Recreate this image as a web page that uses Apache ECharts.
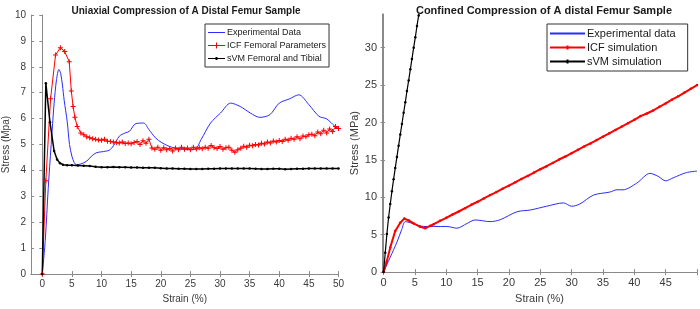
<!DOCTYPE html>
<html>
<head>
<meta charset="utf-8">
<script src="https://cdn.jsdelivr.net/npm/echarts@6/dist/echarts.min.js"></script>
<style>
  html, body { margin: 0; padding: 0; background: #fff; }
  #chart { width: 700px; height: 309px; }
</style>
</head>
<body>
<div id="chart"></div>
<script>
// left panel: uniaxial compression
const leftExpStrain = [0, 0.5, 1, 1.5, 2, 2.4, 2.8, 3.1, 3.4, 3.7, 4.2, 4.6, 5.0, 5.4, 5.8, 6.5, 7.5, 8.3, 9.1, 10, 11.3, 12, 13, 14, 14.7, 15.8, 17.1, 18, 19.1, 20.2, 21.8, 23.5, 25.7, 26.8, 28.4, 30.1, 31.8, 33.4, 35.1, 36.7, 38.4, 40, 41.7, 43.3, 45, 46.7, 48, 49.4, 50]
const leftExpStress = [0, 1.3, 3.3, 5.0, 6.6, 7.5, 7.9, 7.75, 7.3, 6.7, 5.9, 5.0, 4.55, 4.3, 4.22, 4.25, 4.36, 4.55, 4.68, 4.72, 4.78, 4.95, 5.32, 5.45, 5.51, 5.81, 5.83, 5.58, 5.26, 5.07, 4.9, 4.83, 4.81, 5.19, 5.83, 6.22, 6.6, 6.47, 6.22, 6.05, 6.15, 6.6, 6.76, 6.92, 6.54, 6.09, 5.99, 5.7, 5.6]

const leftIcfStrain = [0, 0.6, 1.4, 2.24, 3.06, 3.78, 4.55, 4.9, 5.2, 5.5, 5.9, 6.5, 7, 7.5, 8, 8.5, 9, 9.5, 10, 10.5, 11, 11.5, 12, 12.5, 13, 13.5, 14, 14.5, 15, 15.5, 16, 16.5, 17, 17.5, 18, 18.5, 19, 19.5, 20, 20.5, 21, 21.5, 22, 22.5, 23, 23.5, 24, 24.5, 25, 25.5, 26, 26.5, 27, 27.5, 28, 28.5, 29, 29.5, 30, 30.5, 31, 31.5, 32, 32.5, 33, 33.5, 34, 34.5, 35, 35.5, 36, 36.5, 37, 37.5, 38, 38.5, 39, 39.5, 40, 40.5, 41, 41.5, 42, 42.5, 43, 43.5, 44, 44.5, 45, 45.5, 46, 46.5, 47, 47.5, 48, 48.5, 49, 49.5, 50]
const leftIcfStress = [0, 3.6, 6.77, 8.46, 8.74, 8.59, 8.2, 7.07, 6.47, 6.05, 5.7, 5.45, 5.38, 5.3, 5.26, 5.22, 5.2, 5.18, 5.17, 5.2, 5.13, 5.12, 5.1, 5.07, 5.06, 5.1, 5.04, 5.06, 5.03, 5.08, 5.12, 5.0, 5.15, 5.05, 5.2, 4.87, 4.82, 4.9, 4.78, 4.88, 4.8, 4.85, 4.75, 4.87, 4.8, 4.9, 4.82, 4.87, 4.8, 4.9, 4.83, 4.88, 4.84, 4.9, 4.86, 4.96, 4.88, 4.85, 4.92, 4.82, 4.88, 4.9, 4.78, 4.7, 4.8, 4.86, 4.93, 4.9, 4.97, 4.95, 5.0, 4.98, 5.05, 5.02, 5.1, 5.06, 5.14, 5.1, 5.16, 5.12, 5.2, 5.17, 5.24, 5.2, 5.3, 5.22, 5.33, 5.3, 5.38, 5.4, 5.34, 5.48, 5.42, 5.55, 5.45, 5.6, 5.5, 5.7, 5.62]

const leftSvmStrain = [0, 0.6, 1.3, 2.0, 2.5, 3.0, 3.5, 4.2, 5, 6, 7, 8, 9, 10, 11, 12, 13, 14, 15, 16, 17, 18, 19, 20, 21, 22, 23, 24, 25, 26, 27, 28, 29, 30, 31, 32, 33, 34, 35, 36, 37, 38, 39, 40, 41, 42, 43, 44, 45, 46, 47, 48, 49, 50]
const leftSvmStress = [0, 7.37, 5.86, 4.75, 4.42, 4.28, 4.22, 4.2, 4.2, 4.19, 4.18, 4.17, 4.14, 4.12, 4.12, 4.13, 4.12, 4.12, 4.11, 4.11, 4.1, 4.1, 4.1, 4.09, 4.08, 4.08, 4.07, 4.07, 4.06, 4.06, 4.06, 4.07, 4.07, 4.08, 4.08, 4.08, 4.08, 4.08, 4.08, 4.07, 4.06, 4.06, 4.07, 4.07, 4.05, 4.06, 4.07, 4.07, 4.08, 4.08, 4.08, 4.08, 4.08, 4.08]

// right panel: confined compression
const rightExpStrain = [0, 1.07, 2.13, 2.9, 3.46, 4.25, 5.3, 6.4, 8.0, 10.1, 11.7, 13.3, 14.6, 17, 18.6, 21.3, 23.4, 26.0, 28.7, 30.0, 31.3, 33.5, 36.1, 37.2, 38.2, 40.4, 42.5, 43.8, 45, 46.2, 48.3, 50]
const rightExpStress = [0, 2.0, 4.0, 5.7, 6.75, 6.6, 6.3, 6.1, 6.1, 6.1, 5.87, 6.5, 6.97, 6.75, 7.0, 8.07, 8.3, 8.8, 9.25, 8.8, 9.1, 10.3, 10.7, 11.0, 11.0, 11.9, 13.2, 12.8, 12.2, 12.6, 13.3, 13.5]

const rightIcfStrain = [0, 0.5, 1.07, 1.86, 2.66, 3.3, 4.0, 4.8, 5.85, 6.65, 7.44, 8, 9, 10, 11, 12, 13, 14, 15, 16, 17, 18, 19, 20, 21, 22, 23, 24, 25, 26, 27, 28, 29, 30, 31, 32, 33, 34, 35, 36, 37, 38, 39, 40, 41, 42, 43, 44, 45, 46, 47, 48, 49, 50]
const rightIcfStress = [0, 1.4, 3.3, 5.5, 6.6, 7.15, 6.9, 6.5, 6.05, 5.87, 6.18, 6.4, 6.85, 7.25, 7.7, 8.1, 8.55, 9.0, 9.4, 9.85, 10.3, 10.7, 11.15, 11.55, 12.0, 12.45, 12.85, 13.3, 13.75, 14.15, 14.6, 15.05, 15.45, 15.9, 16.35, 16.8, 17.2, 17.65, 18.1, 18.55, 19.0, 19.45, 19.9, 20.35, 20.85, 21.2, 21.6, 22.1, 22.55, 23.05, 23.5, 24.0, 24.5, 25.0]

const rightSvmStrain = [0, 0.27, 0.53, 0.8, 1.07, 1.33, 1.6, 1.86, 2.13, 2.4, 2.67, 2.93, 3.2, 3.47, 3.73, 4.0, 4.27, 4.53, 4.8, 5.07, 5.33, 5.6, 5.87]
const rightSvmStress = [0, 2.6, 5.1, 7.3, 9.1, 10.8, 12.4, 13.9, 15.4, 16.9, 18.4, 19.8, 21.3, 22.7, 24.2, 25.6, 27.1, 28.5, 30.0, 31.4, 32.9, 34.3, 35.8]

const leftXTicks = [0, 5, 10, 15, 20, 25, 30, 35, 40, 45, 50]
const leftYTicks = [0, 1, 2, 3, 4, 5, 6, 7, 8, 9, 10]
const rightXTicks = [0, 5, 10, 15, 20, 25, 30, 35, 40, 45]
const rightXTickMarks = [0, 5, 10, 15, 20, 25, 30, 35, 40, 45, 50]
const rightYTicks = [0, 5, 10, 15, 20, 25, 30]

const zip = (xs, ys) => xs.map((x, i) => [x, ys[i]])

const FONT = 'Liberation Sans'
const AXIS_GREY = '#8a8a8a'
const LABEL_GREY = '#3a3a3a'
const PLUS = 'path://M4,0H6V4H10V6H6V10H4V6H0V4H4Z'

// legend icons: line sample with the marker drawn on it
const ICON_LINE_S = 'path://M0,4.5H17V5.5H0Z'
const ICON_PLUS_S = 'path://M0,4.5H17V5.5H0Z M8,2H9V4.5H11.5V5.5H9V8H8V5.5H5.5V4.5H8Z'
const ICON_DOT_S = 'path://M0,4.5H17V5.5H0Z M7.5,3.5H9.5V6.5H7.5Z'
const ICON_LINE_L = 'path://M0,5H35V7H0Z'
const ICON_DOT_L = 'path://M0,5H35V7H0Z M16.5,4H18.5V8H16.5Z'

function makeX(grid, min, max, labels, marks, fontSize, name, gap) {
    return [{
        type: 'value', gridIndex: grid, min: min, max: max, position: 'bottom',
        name: name, nameLocation: 'middle', nameGap: gap,
        nameTextStyle: { color: LABEL_GREY, fontFamily: FONT, fontSize: fontSize },
        axisLine: { show: true, onZero: false, lineStyle: { color: AXIS_GREY } },
        axisTick: { show: true, inside: true, length: 3, customValues: marks, lineStyle: { color: AXIS_GREY } },
        axisLabel: { customValues: labels, color: LABEL_GREY, fontFamily: FONT, fontSize: fontSize, margin: 5 },
        splitLine: { show: false }
    }, {
        type: 'value', gridIndex: grid, min: min, max: max, position: 'top',
        axisLine: { show: true, lineStyle: { color: AXIS_GREY } },
        axisTick: { show: true, inside: true, length: 3, customValues: marks, lineStyle: { color: AXIS_GREY } },
        axisLabel: { show: false },
        splitLine: { show: false }
    }]
}

function makeY(grid, min, max, ticks, fontSize, name, gap) {
    return [{
        type: 'value', gridIndex: grid, min: min, max: max, position: 'left',
        name: name, nameLocation: 'middle', nameGap: gap,
        nameTextStyle: { color: LABEL_GREY, fontFamily: FONT, fontSize: fontSize },
        axisLine: { show: true, onZero: false, lineStyle: { color: AXIS_GREY } },
        axisTick: { show: true, inside: true, length: 3, customValues: ticks, lineStyle: { color: AXIS_GREY } },
        axisLabel: { customValues: ticks, color: LABEL_GREY, fontFamily: FONT, fontSize: fontSize, margin: 5 },
        splitLine: { show: false }
    }, {
        type: 'value', gridIndex: grid, min: min, max: max, position: 'right',
        axisLine: { show: true, lineStyle: { color: AXIS_GREY } },
        axisTick: { show: true, inside: true, length: 3, customValues: ticks, lineStyle: { color: AXIS_GREY } },
        axisLabel: { show: false },
        splitLine: { show: false }
    }]
}

const chart = echarts.init(document.getElementById('chart'), null, { renderer: 'canvas' })

const option = {
    animation: false,
    backgroundColor: '#fff',
    title: [{
        text: 'Uniaxial Compression of A Distal Femur Sample',
        left: 181, top: 1, textAlign: 'center',
        textStyle: { fontFamily: FONT, fontSize: 10, fontWeight: 'bold', color: '#1a1a1a' }
    }, {
        text: 'Confined Compression of A distal Femur Sample',
        left: 539, top: 0, textAlign: 'center',
        textStyle: { fontFamily: FONT, fontSize: 11, fontWeight: 'bold', color: '#1a1a1a' }
    }],
    grid: [
        { left: 25, top: 15, width: 313.5, height: 260 },
        { left: 382, top: 14, width: 315, height: 261.5 }
    ],
    xAxis: [
        ...makeX(0, -1.9, 50, leftXTicks, leftXTicks, 10, 'Strain (%)', 13),
        ...makeX(1, -0.25, 50, rightXTicks, rightXTickMarks, 11, 'Strain (%)', 15)
    ],
    yAxis: [
        ...makeY(0, 0, 10, leftYTicks, 10, 'Stress (Mpa)', 9),
        ...makeY(1, 0, 34.5, rightYTicks, 11, 'Stress (MPa)', 10)
    ],
    legend: [{
        data: [
            { name: 'Experimental Data', icon: ICON_LINE_S },
            { name: 'ICF Femoral Parameters', icon: ICON_PLUS_S },
            { name: 'sVM Femoral and Tibial', icon: ICON_DOT_S }
        ],
        orient: 'vertical', left: 205, top: 24,
        itemWidth: 17, itemHeight: 10, itemGap: 4, padding: [4, 3, 4, 3],
        borderColor: '#333', borderWidth: 1, backgroundColor: '#fff',
        selectedMode: false,
        textStyle: { fontFamily: FONT, fontSize: 9, color: '#1a1a1a', padding: [0, 0, 0, -3] }
    }, {
        data: [
            { name: 'Experimental data', icon: ICON_LINE_L },
            { name: 'ICF simulation', icon: ICON_DOT_L },
            { name: 'sVM simulation', icon: ICON_DOT_L }
        ],
        orient: 'vertical', left: 547, top: 24,
        itemWidth: 35, itemHeight: 12, itemGap: 3, padding: [4, 12, 4, 3],
        borderColor: '#333', borderWidth: 1, backgroundColor: '#fff',
        selectedMode: false,
        textStyle: { fontFamily: FONT, fontSize: 11, color: '#1a1a1a', padding: [0, 0, 0, -3] }
    }],
    series: [{
        name: 'Experimental Data', type: 'line', xAxisIndex: 0, yAxisIndex: 0,
        data: zip(leftExpStrain, leftExpStress), smooth: 0.3,
        symbol: 'none', lineStyle: { color: '#2b2bff', width: 1 }, itemStyle: { color: '#2b2bff' }
    }, {
        name: 'ICF Femoral Parameters', type: 'line', xAxisIndex: 0, yAxisIndex: 0,
        data: zip(leftIcfStrain, leftIcfStress),
        symbol: PLUS, symbolSize: 5, showAllSymbol: true,
        lineStyle: { color: '#ff0000', width: 1 }, itemStyle: { color: '#ff0000' }
    }, {
        name: 'sVM Femoral and Tibial', type: 'line', xAxisIndex: 0, yAxisIndex: 0,
        data: zip(leftSvmStrain, leftSvmStress),
        symbol: 'circle', symbolSize: 2.5, showAllSymbol: true,
        lineStyle: { color: '#000', width: 1.5 }, itemStyle: { color: '#000' }
    }, {
        name: 'Experimental data', type: 'line', xAxisIndex: 2, yAxisIndex: 2,
        data: zip(rightExpStrain, rightExpStress), smooth: 0.3,
        symbol: 'none', lineStyle: { color: '#2b2bff', width: 1 }, itemStyle: { color: '#2b2bff' }
    }, {
        name: 'ICF simulation', type: 'line', xAxisIndex: 2, yAxisIndex: 2,
        data: zip(rightIcfStrain, rightIcfStress),
        symbol: 'circle', symbolSize: 2.5, showAllSymbol: true,
        lineStyle: { color: '#ff0000', width: 2 }, itemStyle: { color: '#ff0000' }
    }, {
        name: 'sVM simulation', type: 'line', xAxisIndex: 2, yAxisIndex: 2,
        data: zip(rightSvmStrain, rightSvmStress),
        symbol: 'circle', symbolSize: 2.5, showAllSymbol: true,
        lineStyle: { color: '#000', width: 1.2 }, itemStyle: { color: '#000' }
    }]
}

chart.setOption(option)
</script>
</body>
</html>
